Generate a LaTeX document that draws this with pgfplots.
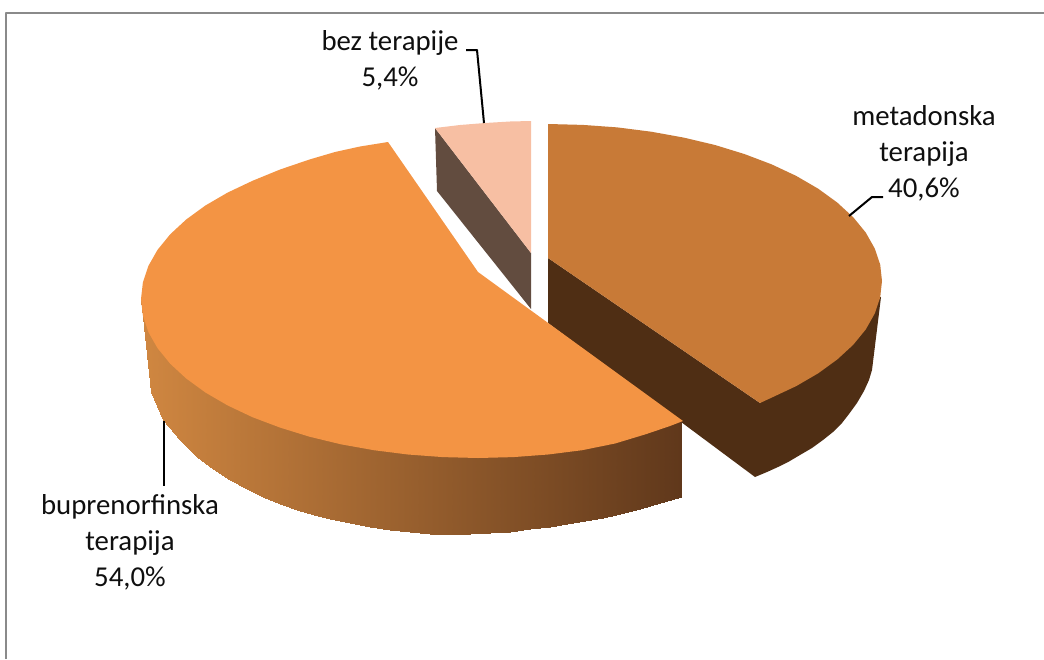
\documentclass[border=0pt]{standalone}
\usepackage{pgfplots}
\pgfplotsset{compat=1.18}
\usepackage{fontspec}
\setmainfont{Carlito}
\definecolor{metaTop}{RGB}{200,122,55}
\definecolor{metaSide}{RGB}{79,46,20}
\definecolor{bupTop}{RGB}{243,148,68}
\definecolor{bezTop}{RGB}{247,191,163}
\definecolor{bezSide}{RGB}{98,76,63}
\definecolor{gradL}{RGB}{208,135,65}
\definecolor{gradR}{RGB}{96,56,27}
\definecolor{frameC}{RGB}{138,138,138}
\definecolor{txt}{RGB}{15,15,15}
\tikzset{lbl/.style={anchor=base,font=\fontsize{28.8}{35}\selectfont,text=txt,inner sep=0pt}}
\begin{document}
\begin{tikzpicture}
\path (0,0) rectangle (1044pt,659pt);
\begin{axis}[
  at={(0,0)},anchor=south west,
  width=1044pt,height=659pt,scale only axis,
  xmin=0,xmax=1044,ymin=0,ymax=659,y dir=reverse,
  hide axis,
  every axis plot/.append style={line join=round},
]
% frame
\addplot[draw=frameC,line width=2pt] coordinates {(6,659)(6,13)(1044,13)};
% bez terapije
\addplot[fill=bezSide,draw=none] coordinates {(435,128)(531,253)(531,309)(437,191)} -- cycle;
\addplot[fill=bezTop,draw=none] coordinates {(435,128)(460,125)(485,123)(510,121.5)(531,121)(531,253)} -- cycle;
% metadonska
\addplot[fill=metaSide,draw=none] coordinates {(548,258)(760,403)(865,329)(880,297)(881,297)(872,370)(869,380)(864,391)(857,403)(849,414)(842,423)(833,432)(823,440)(812,448)(800,455)(789,461.5)(778,467)(767,472)(755,477)(548,323)} -- cycle;
\addplot[fill=metaTop,draw=none] coordinates {(548,124)(582.9,124.9)(617.4,127.4)(651.2,131.7)(683.8,137.6)(715,145)(744.3,154)(771.5,164.3)(796.2,175.9)(818.2,188.7)(837.2,202.5)(853.1,217.1)(865.7,232.5)(874.7,248.4)(880.2,264.6)(882,281)(880.2,297.4)(874.7,313.6)(865.7,329.5)(853.1,344.9)(837.2,359.5)(818.2,373.3)(796.2,386.1)(771.5,397.7)(760,403)(548,258)} -- cycle;
% buprenorfinska: side wall, one quad per column, shaded along x
\addplot[patch,patch type=rectangle,shader=interp,point meta=x,
  point meta min=141,point meta max=681,
  colormap={side}{color=(gradL) color=(gradR)}] table {
x y
141 300
151 300
151 392
143 317
151 300
163 300
163 420
151 392
163 300
180 300
180 440
163 420
180 300
197 300
197 457
180 440
197 300
213 300
213 469
197 457
213 300
230 300
230 480
213 469
230 300
247 300
247 489
230 480
247 300
263 300
263 497
247 489
263 300
280 300
280 504
263 497
280 300
297 300
297 510
280 504
297 300
314 300
314 515
297 510
314 300
330 300
330 519
314 515
330 300
350 300
350 523
330 519
350 300
370 300
370 527
350 523
370 300
390 300
390 530
370 527
390 300
410 300
410 532
390 530
410 300
430 300
430 533.5
410 532
430 300
450 300
450 534
430 533.5
450 300
470 300
470 534
450 534
470 400
490 400
490 533
470 534
490 400
510 400
510 531.5
490 533
510 400
530 400
530 529
510 531.5
530 400
550 400
550 527
530 529
550 400
567 400
567 524
550 527
567 400
585 400
585 521
567 524
585 400
603 400
603 518
585 521
603 400
620 400
620 514
603 518
620 400
640 400
640 509
620 514
640 410
660 410
660 503
640 509
660 410
681 421
681 497
660 503
};
% buprenorfinska: top
\addplot[fill=bupTop,draw=none] coordinates {(388,142)(360,146.5)(335,152)(309.5,159.5)(280.1,169.5)(252.5,180.8)(227.6,192.6)(205.4,205.5)(186.2,219.5)(170.2,234.3)(157.5,249.9)(148.4,265.9)(142.9,282.4)(141,299)(142.9,315.6)(148.4,332.1)(157.5,348.1)(170.2,363.7)(186.2,378.5)(205.4,392.5)(227.6,405.4)(252.5,417.2)(280.1,427.6)(309.5,436.7)(340.9,444.3)(373.9,450.2)(407.9,454.5)(442.8,457.1)(478,458)(513.2,457.1)(548.1,454.5)(582.1,450.2)(615.1,443.5)(646.5,434)(670,426)(683,421)(478,272)} -- cycle;
% leader lines
\addplot[draw=black,line width=2pt] coordinates {(466,50)(477,50)(484,123)};
\addplot[draw=black,line width=2pt] coordinates {(849,216)(872,197)(883,197)};
\addplot[draw=black,line width=2pt] coordinates {(164,421)(164,486)};
% labels
\node[lbl] at (axis cs:390,50) {bez terapije};
\node[lbl] at (axis cs:390,86) {5,4\%};
\node[lbl] at (axis cs:924,125) {metadonska};
\node[lbl] at (axis cs:924,161) {terapija};
\node[lbl] at (axis cs:924,197) {40,6\%};
\node[lbl] at (axis cs:130,514) {buprenorfinska};
\node[lbl] at (axis cs:130,550) {terapija};
\node[lbl] at (axis cs:130,586) {54,0\%};
\end{axis}
\end{tikzpicture}
\end{document}
